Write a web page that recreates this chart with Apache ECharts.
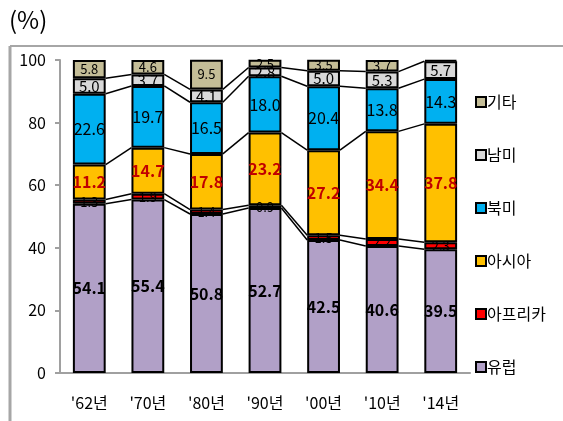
<!DOCTYPE html>
<html>
<head>
<meta charset="utf-8">
<script src="https://cdn.jsdelivr.net/npm/echarts@6/dist/echarts.min.js"></script>
<style>
    html, body { margin: 0; padding: 0; background: #fff; }
    #chart { width: 563px; height: 421px; }
</style>
</head>
<body>
<div id="chart"></div>
<script>
// 데이터
const years = ["'62년", "'70년", "'80년", "'90년", "'00년", "'10년", "'14년"];
const seriesNames = ['유럽', '아프리카', '아시아', '북미', '남미', '기타'];
const europe = [54.1, 55.4, 50.8, 52.7, 42.5, 40.6, 39.5];
const africa = [1.3, 1.9, 1.4, 0.9, 1.5, 2.2, 2.3];
const asia = [11.2, 14.7, 17.8, 23.2, 27.2, 34.4, 37.8];
const northAmerica = [22.6, 19.7, 16.5, 18.0, 20.4, 13.8, 14.3];
const southAmerica = [5.0, 3.7, 4.1, 2.8, 5.0, 5.3, 5.7];
const others = [5.8, 4.6, 9.5, 2.5, 3.5, 3.7, 0.4];
const yTicks = [0, 20, 40, 60, 80, 100];

const values = [europe, africa, asia, northAmerica, southAmerica, others];
const colors = ['#B1A0C7', '#FF0000', '#FFC000', '#00B0F0', '#D9D9D9', '#C4BD97'];
const FONT = 'Noto Sans CJK KR';
const BAR_RATIO = 0.56;

const labelStyles = [
    { fontSize: 16, fontWeight: 'bold', color: '#000' },
    { fontSize: 13, fontWeight: 'normal', color: '#000' },
    { fontSize: 16, fontWeight: 'bold', color: '#C00000' },
    { fontSize: 16, fontWeight: 'normal', color: '#000' },
    { fontSize: 15, fontWeight: 'normal', color: '#000' },
    { fontSize: 13, fontWeight: 'normal', color: '#000' },
];

// 누적값 (시리즈 선 용)
const cumulative = [];
values.forEach((arr, k) => {
    cumulative.push(arr.map((v, i) => (k ? cumulative[k - 1][i] : 0) + v));
});

const barSeries = values.map((arr, k) => ({
    name: seriesNames[k],
    type: 'bar',
    stack: 'total',
    barWidth: BAR_RATIO * 100 + '%',
    data: arr,
    itemStyle: { color: colors[k], borderColor: '#000', borderWidth: 2 },
    label: {
        show: true,
        position: 'inside',
        fontFamily: FONT,
        fontSize: labelStyles[k].fontSize,
        fontWeight: labelStyles[k].fontWeight,
        color: labelStyles[k].color,
        formatter: (p) => (p.value < 1 && k === 5 ? '' : p.value.toFixed(1)),
    },
    z: 2,
}));

// 막대 사이를 잇는 시리즈 선
const lineData = [];
for (let k = 0; k < cumulative.length - 1; k++) {
    for (let i = 0; i < years.length - 1; i++) {
        lineData.push([i, cumulative[k][i], cumulative[k][i + 1]]);
    }
}
const seriesLines = {
    type: 'custom',
    data: lineData,
    silent: true,
    z: 3,
    renderItem: (params, api) => {
        const i = api.value(0);
        const p1 = api.coord([i, api.value(1)]);
        const p2 = api.coord([i + 1, api.value(2)]);
        const hw = (api.size([1, 0])[0] * BAR_RATIO) / 2;
        return {
            type: 'line',
            shape: { x1: p1[0] + hw, y1: p1[1], x2: p2[0] - hw, y2: p2[1] },
            style: { stroke: '#000', lineWidth: 1.5 },
        };
    },
};

const myChart = echarts.init(document.getElementById('chart'));
myChart.setOption({
    animation: false,
    textStyle: { fontFamily: FONT },
    grid: { left: 60, right: 93, top: 60, bottom: 48 },
    legend: {
        orient: 'vertical',
        left: 470,
        top: 89,
        itemWidth: 10,
        itemHeight: 10,
        itemGap: 37,
        icon: 'rect',
        data: seriesNames.slice().reverse(),
        textStyle: { fontFamily: FONT, fontSize: 16, color: '#000', padding: [0, 0, 0, -4] },
    },
    xAxis: {
        type: 'category',
        data: years,
        axisLine: { lineStyle: { color: '#A0A0A0', width: 2 } },
        axisTick: { show: false },
        axisLabel: { color: '#000', fontSize: 16, fontFamily: FONT, margin: 22 },
    },
    yAxis: {
        type: 'value',
        min: yTicks[0],
        max: yTicks[yTicks.length - 1],
        interval: 20,
        axisLine: { show: true, lineStyle: { color: '#A0A0A0', width: 2 } },
        axisTick: { show: true, length: 5, lineStyle: { color: '#A0A0A0', width: 2 } },
        axisLabel: { color: '#000', fontSize: 16, fontFamily: FONT, margin: 14 },
        splitLine: { show: false },
    },
    graphic: [
        {
            type: 'text',
            left: 9,
            top: 8,
            style: { text: '(%)', font: '24px ' + FONT, fill: '#000' },
        },
        {
            type: 'line',
            shape: { x1: 10, y1: 46, x2: 563, y2: 46 },
            style: { stroke: '#A6A6A6', lineWidth: 2 },
        },
        {
            type: 'line',
            shape: { x1: 10, y1: 46, x2: 10, y2: 421 },
            style: { stroke: '#A6A6A6', lineWidth: 3 },
        },
    ],
    series: [...barSeries, seriesLines],
});
</script>
</body>
</html>
